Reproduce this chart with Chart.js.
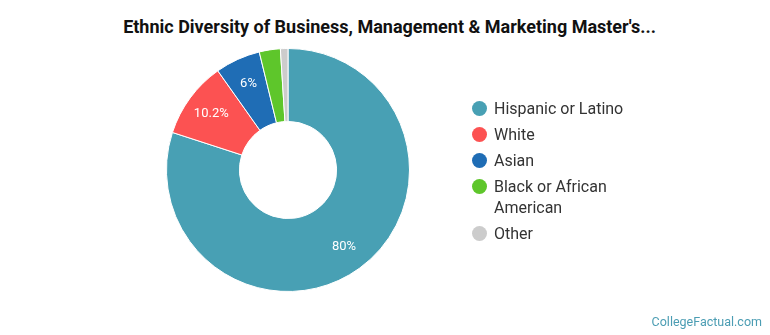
<!DOCTYPE html>
<html>
<head>
<meta charset="utf-8">
<script src="https://cdn.jsdelivr.net/npm/chart.js@4.4.1/dist/chart.umd.min.js"></script>
<style>
  body { margin: 0; background: #fff; font-family: Roboto, "Noto Sans", sans-serif; }
  #wrap { position: relative; width: 770px; height: 335px; overflow: hidden; }
  #title { position: absolute; left: 0; top: 16px; width: 779px; text-align: center;
           font-weight: bold; font-size: 18px; color: #111; }
  #chartBox { position: absolute; left: 0; top: 0; width: 770px; height: 335px; }
  #legend { position: absolute; left: 472px; top: 98px; list-style: none; margin: 0; padding: 0; }
  #legend li { position: relative; padding-left: 22px; width: 130px; font-size: 16px;
               line-height: 21px; color: #333; margin-bottom: 5px; }
  #legend li span { position: absolute; left: 0; top: 3px; width: 15px; height: 15px; border-radius: 50%; }
  #credit { position: absolute; right: 8px; bottom: 6px; font-size: 12.5px; color: #4b9db3; }
</style>
</head>
<body>
<div id="wrap">
  <div id="title">Ethnic Diversity of Business, Management &amp; Marketing Master's...</div>
  <div id="chartBox"><canvas id="myChart"></canvas></div>
  <ul id="legend"></ul>
  <div id="credit">CollegeFactual.com</div>
</div>
<script>
const labels = ['Hispanic or Latino', 'White', 'Asian', 'Black or African American', 'Other'];
const percents = [80, 10.2, 6, 2.8, 1.0];
const colors = ['#48a0b4', '#fc5252', '#1f6db5', '#5ec62b', '#cccccc'];

// etiquetas dentro de los segmentos
const sliceLabels = {
    id: 'sliceLabels',
    afterDatasetsDraw(chart) {
        const ctx = chart.ctx;
        const meta = chart.getDatasetMeta(0);
        ctx.save();
        ctx.fillStyle = '#fff';
        ctx.font = '13px Roboto, sans-serif';
        ctx.textAlign = 'center';
        ctx.textBaseline = 'middle';
        meta.data.forEach((arc, i) => {
            if (percents[i] < 5) return;
            const p = arc.getProps(['startAngle', 'endAngle', 'innerRadius', 'outerRadius', 'x', 'y'], true);
            const mid = (p.startAngle + p.endAngle) / 2;
            const r = p.innerRadius + (p.outerRadius - p.innerRadius) * 0.64;
            ctx.fillText(percents[i] + '%', p.x + Math.cos(mid) * r, p.y + Math.sin(mid) * r);
        });
        ctx.restore();
    }
};

new Chart(document.getElementById('myChart'), {
    type: 'doughnut',
    data: {
        labels: labels,
        datasets: [{
            data: percents,
            backgroundColor: colors,
            borderColor: '#fff',
            borderWidth: 1
        }]
    },
    options: {
        responsive: true,
        maintainAspectRatio: false,
        animation: false,
        cutout: '40%',
        layout: { padding: { left: 166, right: 360, top: 48, bottom: 43 } },
        plugins: {
            legend: { display: false },
            tooltip: { enabled: false }
        }
    },
    plugins: [sliceLabels]
});

// leyenda
const legend = document.getElementById('legend');
labels.forEach((name, i) => {
    const li = document.createElement('li');
    li.innerHTML = `<span style="background:${colors[i]}"></span>${name}`;
    legend.appendChild(li);
});
</script>
</body>
</html>
